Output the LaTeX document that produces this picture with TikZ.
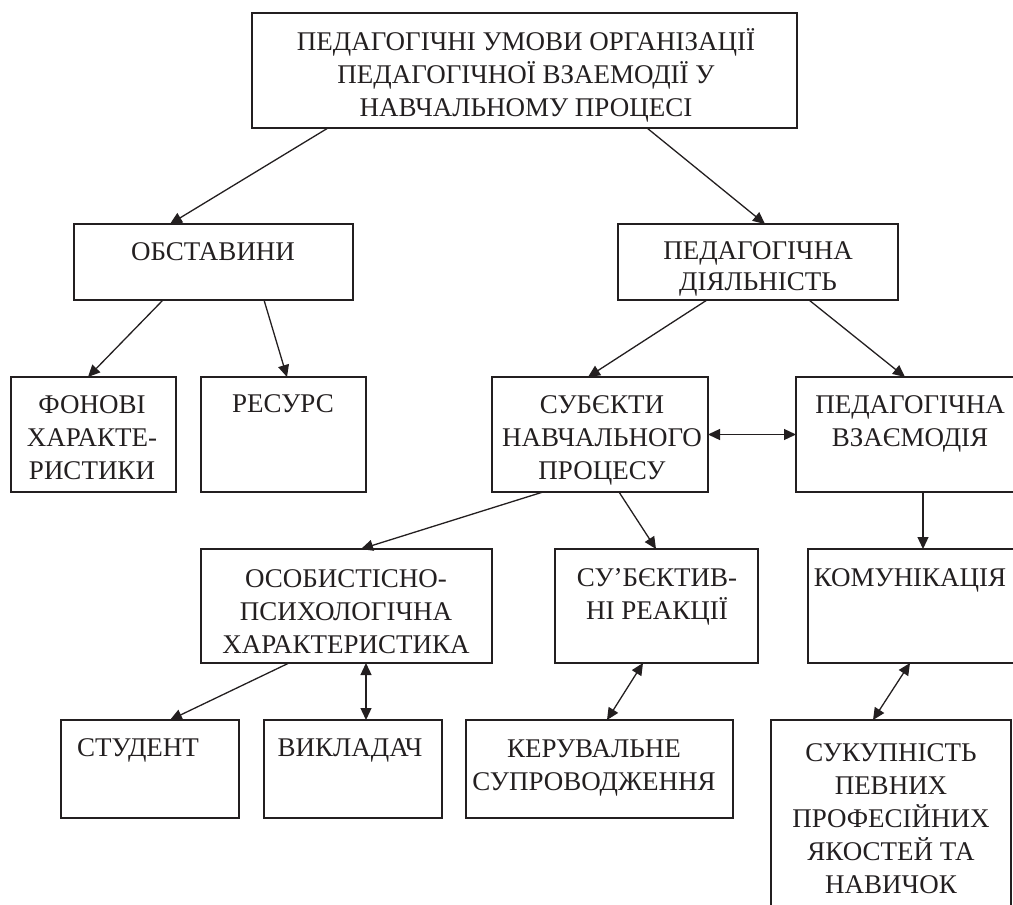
\documentclass[tikz,border=0pt]{standalone}
\usepackage{fontspec}
\setmainfont{Liberation Serif}
\usetikzlibrary{arrows.meta}
\definecolor{ink}{HTML}{231F20}
\newcommand{\mlines}[1]{\begin{tabular}[t]{@{}c@{}}#1\end{tabular}}
\tikzset{
  box/.style={draw=ink, line width=1.5pt, inner sep=0pt, outer sep=0pt, rectangle},
  txt/.style={anchor=base, inner sep=0pt, text=ink, font=\fontsize{27}{33}\selectfont},
  conn/.style={draw=ink, line width=1.3pt, -{Triangle[length=12pt,width=11pt]}},
  dconn/.style={draw=ink, line width=1.3pt, {Triangle[length=12pt,width=11pt]}-{Triangle[length=12pt,width=11pt]}}
}
\begin{document}
\begin{tikzpicture}[x=1pt,y=-1pt]
\useasboundingbox (0,0) rectangle (1013,905);
% boxes
\node[box, minimum width=545pt, minimum height=115pt] (top)  at (524.5,70.5) {};
\node[box, minimum width=279pt, minimum height=76pt]  (obst) at (213.5,262) {};
\node[box, minimum width=280pt, minimum height=76pt]  (dial) at (758,262) {};
\node[box, minimum width=165pt, minimum height=115pt] (fon)  at (93.5,434.5) {};
\node[box, minimum width=165pt, minimum height=115pt] (res)  at (283.5,434.5) {};
\node[box, minimum width=216pt, minimum height=115pt] (sub)  at (600,434.5) {};
\node[box, minimum width=234pt, minimum height=115pt] (vz)   at (913,434.5) {};
\node[box, minimum width=291pt, minimum height=114pt] (osob) at (346.5,606) {};
\node[box, minimum width=203pt, minimum height=114pt] (reak) at (656.5,606) {};
\node[box, minimum width=222pt, minimum height=114pt] (kom)  at (919,606) {};
\node[box, minimum width=178pt, minimum height=98pt]  (stud) at (150,769) {};
\node[box, minimum width=178pt, minimum height=98pt]  (vykl) at (353,769) {};
\node[box, minimum width=267pt, minimum height=98pt]  (ker)  at (599.5,769) {};
\node[box, minimum width=240pt, minimum height=210pt] (suk)  at (891,825) {};
% texts
\node[txt] (ttop)  at (526,50)  {\mlines{ПЕДАГОГІЧНІ УМОВИ ОРГАНІЗАЦІЇ\\ПЕДАГОГІЧНОЇ ВЗАЕМОДІЇ У\\НАВЧАЛЬНОМУ ПРОЦЕСІ}};
\node[txt] (tobst) at (213,260)  {ОБСТАВИНИ};
\node[txt] (tdial) at (758,259)  {\mlines{ПЕДАГОГІЧНА\\[-2pt]ДІЯЛЬНІСТЬ}};
\node[txt] (tfon)  at (92,413)   {\mlines{ФОНОВІ\\ХАРАКТЕ-\\РИСТИКИ}};
\node[txt] (tres)  at (283,412)  {РЕСУРС};
\node[txt] (tsub)  at (602,413)  {\mlines{СУБЄКТИ\\НАВЧАЛЬНОГО\\ПРОЦЕСУ}};
\node[txt] (tvz)   at (910,413)  {\mlines{ПЕДАГОГІЧНА\\ВЗАЄМОДІЯ}};
\node[txt] (tosob) at (346,587)  {\mlines{ОСОБИСТІСНО-\\ПСИХОЛОГІЧНА\\ХАРАКТЕРИСТИКА}};
\node[txt] (treak) at (657,586)  {\mlines{СУ’БЄКТИВ-\\НІ РЕАКЦІЇ}};
\node[txt] (tkom)  at (910,586)  {КОМУНІКАЦІЯ};
\node[txt] (tstud) at (138,756)  {СТУДЕНТ};
\node[txt] (tvykl) at (350,756)  {ВИКЛАДАЧ};
\node[txt] (tker)  at (594,757)  {\mlines{КЕРУВАЛЬНЕ\\СУПРОВОДЖЕННЯ}};
\node[txt] (tsuk)  at (891,761)  {\mlines{СУКУПНІСТЬ\\ПЕВНИХ\\ПРОФЕСІЙНИХ\\ЯКОСТЕЙ ТА\\НАВИЧОК}};
% connectors
\draw[conn] ([xshift=76pt]top.south west) -- ([xshift=96pt]obst.north west);
\draw[conn] ([xshift=395pt]top.south west) -- ([xshift=147pt]dial.north west);
\draw[conn] ([xshift=89pt]obst.south west) -- ([xshift=77pt]fon.north west);
\draw[conn] ([xshift=190pt]obst.south west) -- ([xshift=86pt]res.north west);
\draw[conn] ([xshift=89pt]dial.south west) -- ([xshift=96pt]sub.north west);
\draw[conn] ([xshift=191pt]dial.south west) -- ([xshift=109pt]vz.north west);
\draw[dconn] (sub.east) -- (vz.west);
\draw[conn] ([xshift=51pt]sub.south west) -- ([xshift=160pt]osob.north west);
\draw[conn] ([xshift=127pt]sub.south west) -- ([xshift=101pt]reak.north west);
\draw[conn] ([xshift=127pt]vz.south west) -- ([xshift=115pt]kom.north west);
\draw[conn] ([xshift=88pt]osob.south west) -- ([xshift=109pt]stud.north west);
\draw[dconn] ([xshift=165pt]osob.south west) -- ([xshift=102pt]vykl.north west);
\draw[dconn] ([xshift=88pt]reak.south west) -- ([xshift=141pt]ker.north west);
\draw[dconn] ([xshift=102pt]kom.south west) -- ([xshift=102pt]suk.north west);
\end{tikzpicture}
\end{document}
